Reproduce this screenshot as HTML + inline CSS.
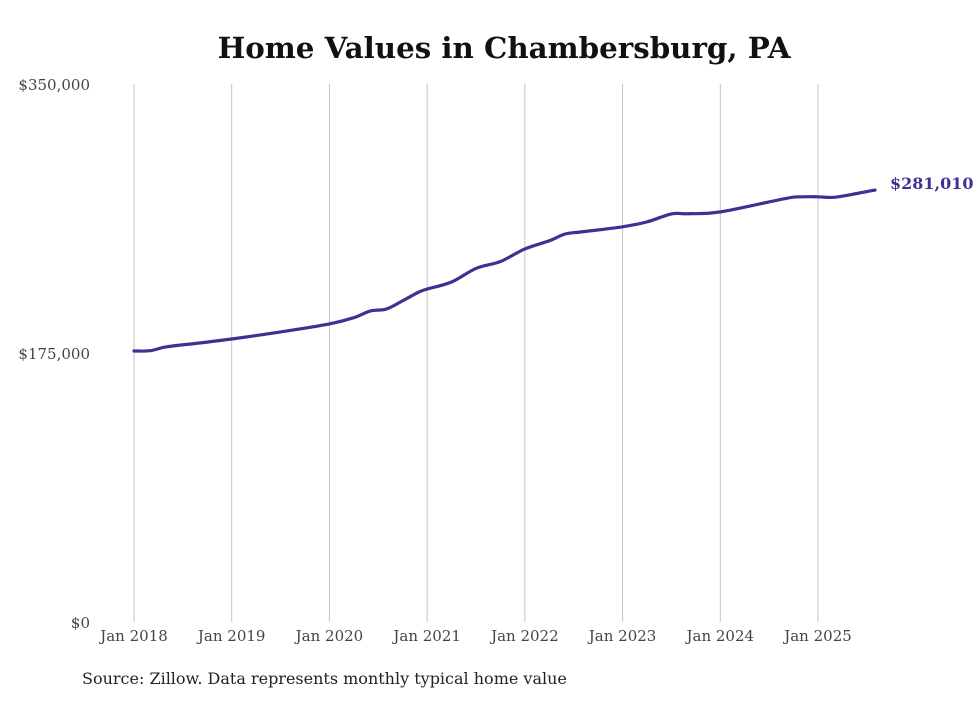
<!DOCTYPE html>
<html><head><meta charset="utf-8"><style>
body{margin:0;background:#fff;}
svg text{font-family:"DejaVu Serif","Liberation Serif",serif;}
</style></head><body>
<svg id="chart" width="980" height="699" xmlns="http://www.w3.org/2000/svg">
<text x="504" y="58" text-anchor="middle" font-size="29.3" font-weight="bold" fill="#111">Home Values in Chambersburg, PA</text>
<g id="grid"></g><g id="yaxis"></g><g id="xaxis"></g>
<path id="line" fill="none" stroke="#3a3394" stroke-width="3.2" stroke-linejoin="round" stroke-linecap="round"/>
<text id="endlabel" font-size="16" font-weight="bold" fill="#3a3394"></text>
<text x="82" y="684" font-size="16" fill="#222">Source: Zillow. Data represents monthly typical home value</text>
</svg>
<script>
const months=[0,2,4,8,12,18,24,27,29,31,33,35,36,39,42,45,48,51,53,55,60,63,66,68,72,80,82,84,86,89,91];
const values=[176300,176500,179000,181500,184100,188700,193900,198000,202300,203600,209000,214700,216600,221200,230000,234500,242700,248000,252500,253800,257100,260300,265500,265600,266800,275500,276600,276600,276300,279000,281010];
const yTicks=[0,175000,350000];
const yTickLabels=["$0","$175,000","$350,000"];
const xTickMonths=[0,12,24,36,48,60,72,84];
const xTickLabels=["Jan 2018","Jan 2019","Jan 2020","Jan 2021","Jan 2022","Jan 2023","Jan 2024","Jan 2025"];
const endLabel="$281,010";
const NS="http://www.w3.org/2000/svg";
const x=m=>134+m*(684/84);
const y=v=>622-v*(538/350000);
function mk(t,a,p){const e=document.createElementNS(NS,t);for(const k in a)e.setAttribute(k,a[k]);p.appendChild(e);return e;}
const grid=document.getElementById('grid'),ya=document.getElementById('yaxis'),xa=document.getElementById('xaxis');
xTickMonths.forEach((m,i)=>{
 const l=mk('line',{x1:x(m),x2:x(m),y1:84,y2:622,stroke:'#c4c4c4','stroke-width':1},grid);
 
 
 const t=mk('text',{x:x(m),y:641,'text-anchor':'middle','font-size':15,fill:'#444'},xa);
 t.textContent=xTickLabels[i];
 
 
});
yTicks.forEach((v,i)=>{
 const t=mk('text',{x:90,y:y(v)+6,'text-anchor':'end','font-size':15,fill:'#444'},ya);
 t.textContent=yTickLabels[i];
 
 
});
const P=months.map((m,i)=>[x(m),y(values[i])]);
let d='M'+P[0][0]+','+P[0][1];
for(let i=0;i<P.length-1;i++){
 const p0=P[i-1]||P[i],p1=P[i],p2=P[i+1],p3=P[i+2]||P[i+1];
 const c1=[p1[0]+(p2[0]-p0[0])/6,p1[1]+(p2[1]-p0[1])/6];
 const c2=[p2[0]-(p3[0]-p1[0])/6,p2[1]-(p3[1]-p1[1])/6];
 d+=`C${c1[0]},${c1[1]} ${c2[0]},${c2[1]} ${p2[0]},${p2[1]}`;
}
document.getElementById('line').setAttribute('d',d);
const el=document.getElementById('endlabel');
const last=P[P.length-1];
el.setAttribute('x',last[0]+15);el.setAttribute('y',last[1]-1);
el.textContent=endLabel;
</script>
</body></html>
